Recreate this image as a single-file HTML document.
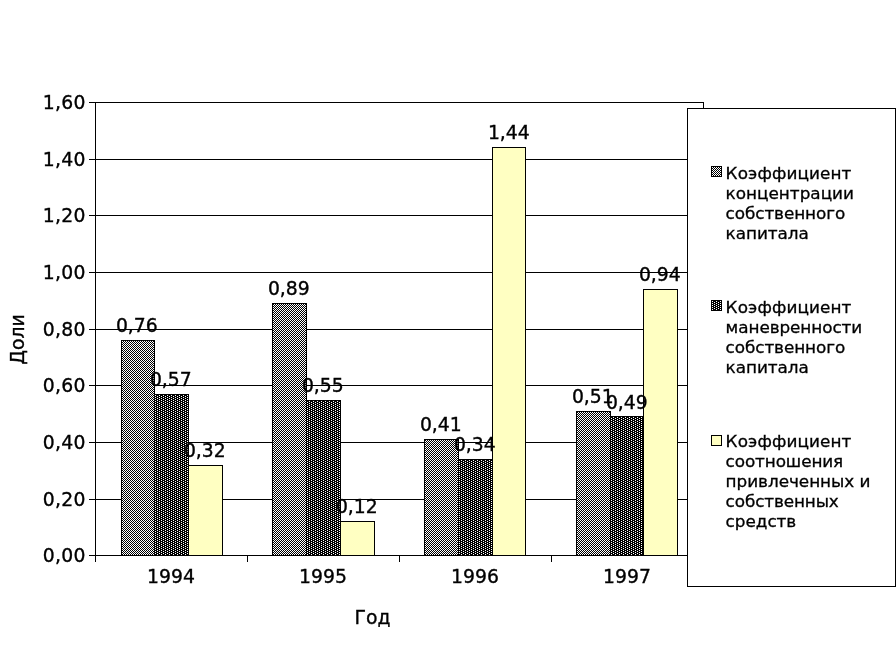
<!DOCTYPE html>
<html lang="ru"><head><meta charset="utf-8"><title>Диаграмма</title>
<style>html,body{margin:0;padding:0;background:#fff;}body{width:896px;height:663px;overflow:hidden;}svg{display:block;}text{font-family:"DejaVu Sans","Liberation Sans",sans-serif;fill:#000;}</style></head><body>
<svg width="896" height="663" viewBox="0 0 896 663">
<defs>
<pattern id="p1" width="2" height="2" patternUnits="userSpaceOnUse"><rect width="2" height="2" fill="#fff"/><rect x="0" y="0" width="1" height="1" fill="#000"/><rect x="1" y="1" width="1" height="1" fill="#000"/></pattern>
<pattern id="p2" width="4" height="2" patternUnits="userSpaceOnUse"><rect width="4" height="2" fill="#000"/><rect x="1" y="0" width="1" height="1" fill="#fff"/><rect x="3" y="1" width="1" height="1" fill="#fff"/></pattern>
<pattern id="p2m" width="4" height="2" patternUnits="userSpaceOnUse" patternTransform="translate(1,0)"><rect width="4" height="2" fill="#000"/><rect x="1" y="0" width="1" height="1" fill="#fff"/><rect x="3" y="1" width="1" height="1" fill="#fff"/></pattern>
<pattern id="p1b" width="2" height="2" patternUnits="userSpaceOnUse"><rect width="2" height="2" fill="#000"/><rect x="0" y="0" width="1" height="1" fill="#fff"/><rect x="1" y="1" width="1" height="1" fill="#fff"/></pattern>
<pattern id="p2b" width="4" height="2" patternUnits="userSpaceOnUse"><rect width="4" height="2" fill="#000"/><rect x="3" y="0" width="1" height="1" fill="#fff"/><rect x="1" y="1" width="1" height="1" fill="#fff"/></pattern>
</defs>
<rect width="896" height="663" fill="#fff"/>
<g shape-rendering="crispEdges" stroke="#000" stroke-width="1" fill="none">
<line x1="95" y1="499.5" x2="703.5" y2="499.5"/>
<line x1="95" y1="442.5" x2="703.5" y2="442.5"/>
<line x1="95" y1="385.5" x2="703.5" y2="385.5"/>
<line x1="95" y1="329.5" x2="703.5" y2="329.5"/>
<line x1="95" y1="272.5" x2="703.5" y2="272.5"/>
<line x1="95" y1="215.5" x2="703.5" y2="215.5"/>
<line x1="95" y1="159.5" x2="703.5" y2="159.5"/>
<line x1="95" y1="102.5" x2="703.5" y2="102.5"/>
<line x1="703.5" y1="102" x2="703.5" y2="556"/>
</g>
<g shape-rendering="crispEdges" stroke="#000" stroke-width="1">
<rect x="121.5" y="340.5" width="33" height="215" fill="url(#p1)"/>
<rect x="154.5" y="394.5" width="34" height="161" fill="url(#p2)"/>
<rect x="188.5" y="465.5" width="34" height="90" fill="#ffffc2"/>
<rect x="272.5" y="303.5" width="34" height="252" fill="url(#p1b)"/>
<rect x="306.5" y="400.5" width="34" height="155" fill="url(#p2b)"/>
<rect x="340.5" y="521.5" width="34" height="34" fill="#ffffc2"/>
<rect x="424.5" y="439.5" width="34" height="116" fill="url(#p1b)"/>
<rect x="458.5" y="459.5" width="34" height="96" fill="url(#p2)"/>
<rect x="492.5" y="147.5" width="33" height="408" fill="#ffffc2"/>
<rect x="576.5" y="411.5" width="34" height="144" fill="url(#p1b)"/>
<rect x="610.5" y="416.5" width="33" height="139" fill="url(#p2b)"/>
<rect x="643.5" y="289.5" width="34" height="266" fill="#ffffc2"/>
</g>
<g shape-rendering="crispEdges" stroke="#000" stroke-width="1" fill="none">
<line x1="95.5" y1="102" x2="95.5" y2="562"/>
<line x1="89" y1="555.5" x2="704" y2="555.5"/>
<line x1="89" y1="555.5" x2="95" y2="555.5"/>
<line x1="89" y1="499.5" x2="95" y2="499.5"/>
<line x1="89" y1="442.5" x2="95" y2="442.5"/>
<line x1="89" y1="385.5" x2="95" y2="385.5"/>
<line x1="89" y1="329.5" x2="95" y2="329.5"/>
<line x1="89" y1="272.5" x2="95" y2="272.5"/>
<line x1="89" y1="215.5" x2="95" y2="215.5"/>
<line x1="89" y1="159.5" x2="95" y2="159.5"/>
<line x1="89" y1="102.5" x2="95" y2="102.5"/>
<line x1="247.5" y1="555" x2="247.5" y2="562"/>
<line x1="399.5" y1="555" x2="399.5" y2="562"/>
<line x1="551.5" y1="555" x2="551.5" y2="562"/>
<line x1="702.5" y1="555" x2="702.5" y2="562"/>
</g>
<g font-size="18.8" text-anchor="end" stroke="#000" stroke-width="0.35" letter-spacing="0.35">
<text x="85.9" y="562.0">0,00</text>
<text x="85.9" y="506.0">0,20</text>
<text x="85.9" y="449.0">0,40</text>
<text x="85.9" y="392.0">0,60</text>
<text x="85.9" y="336.0">0,80</text>
<text x="85.9" y="279.0">1,00</text>
<text x="85.9" y="222.0">1,20</text>
<text x="85.9" y="166.0">1,40</text>
<text x="85.9" y="109.0">1,60</text>
</g>
<g font-size="18.8" text-anchor="middle" stroke="#000" stroke-width="0.35">
<text x="171" y="583">1994</text>
<text x="323" y="583">1995</text>
<text x="475" y="583">1996</text>
<text x="627" y="583">1997</text>
<text x="372.5" y="623.5">Год</text>
<text transform="translate(24.3,339.5) rotate(-90)">Доли</text>
<text x="136.8" y="332">0,76</text>
<text x="170.8" y="386">0,57</text>
<text x="204.8" y="457">0,32</text>
<text x="288.8" y="295">0,89</text>
<text x="322.8" y="392">0,55</text>
<text x="356.8" y="513">0,12</text>
<text x="440.8" y="431">0,41</text>
<text x="474.8" y="451">0,34</text>
<text x="508.8" y="139">1,44</text>
<text x="592.8" y="403">0,51</text>
<text x="626.8" y="409">0,49</text>
<text x="659.8" y="281">0,94</text>
</g>
<rect x="687.5" y="108.5" width="208" height="478" fill="#fff" stroke="#000" stroke-width="1" shape-rendering="crispEdges"/>
<g shape-rendering="crispEdges" stroke="#000" stroke-width="1">
<rect x="711.5" y="166.5" width="10" height="10" fill="url(#p1)"/>
<rect x="711.5" y="300.5" width="10" height="10" fill="url(#p2m)"/>
<rect x="711.5" y="435.5" width="10" height="10" fill="#ffffc2"/>
</g>
<g font-size="16" stroke="#000" stroke-width="0.3" transform="translate(725.6,0) scale(1.053,1)">
<text x="0" y="179" letter-spacing="0.104">Коэффициент</text>
<text x="0" y="199" letter-spacing="0.000">концентрации</text>
<text x="0" y="219" letter-spacing="-0.086">собственного</text>
<text x="0" y="239" letter-spacing="-0.054">капитала</text>
<text x="0" y="313" letter-spacing="0.104">Коэффициент</text>
<text x="0" y="333" letter-spacing="-0.071">маневренности</text>
<text x="0" y="353" letter-spacing="-0.086">собственного</text>
<text x="0" y="373" letter-spacing="-0.054">капитала</text>
<text x="0" y="447" letter-spacing="0.104">Коэффициент</text>
<text x="0" y="467" letter-spacing="-0.104">соотношения</text>
<text x="0" y="487" letter-spacing="-0.047">привлеченных и</text>
<text x="0" y="507" letter-spacing="-0.123">собственных</text>
<text x="0" y="527" letter-spacing="-0.032">средств</text>
</g>
</svg></body></html>
